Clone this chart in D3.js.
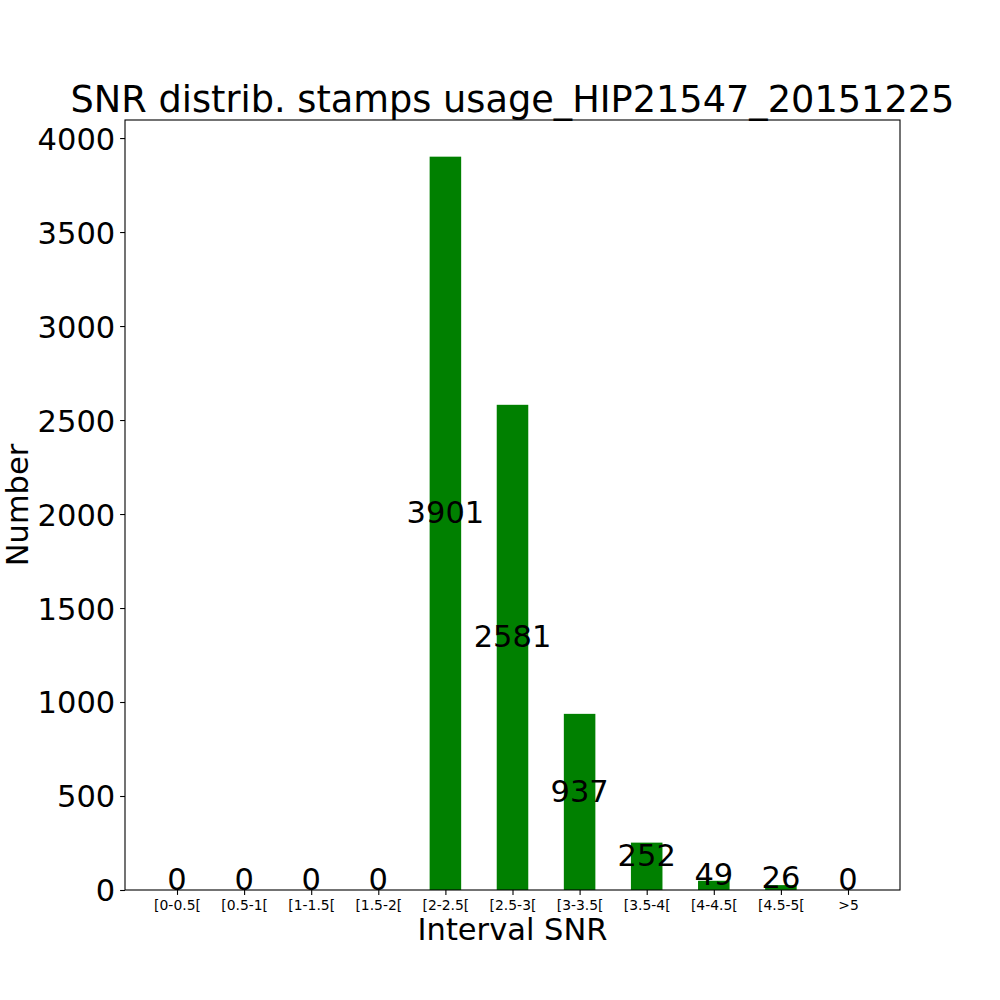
<!DOCTYPE html>
<html>
<head>
<meta charset="utf-8">
<script src="https://cdn.jsdelivr.net/npm/d3@7"></script>
<style>
  body { margin: 0; background: #fff; }
  text { font-family: "DejaVu Sans", sans-serif; fill: #000; }
</style>
</head>
<body>
<svg width="1000" height="1000"></svg>
<script>
// SNR histogram data
var categories = ['[0-0.5[', '[0.5-1[', '[1-1.5[', '[1.5-2[', '[2-2.5[', '[2.5-3[', '[3-3.5[', '[3.5-4[', '[4-4.5[', '[4.5-5[', '>5'];
var counts = [0, 0, 0, 0, 3901, 2581, 937, 252, 49, 26, 0];
var yTicks = [0, 500, 1000, 1500, 2000, 2500, 3000, 3500, 4000];

var svg = d3.select('svg');
var pLeft = 125, pRight = 900, pTop = 120, pBottom = 890;
var barW = 0.47;

var x = d3.scaleLinear().domain([-0.775, counts.length - 1 + 0.775]).range([pLeft, pRight]);
var y = d3.scaleLinear().domain([0, d3.max(counts) * 1.05]).range([pBottom, pTop]);

// bars
svg.selectAll('rect.bar').data(counts).enter().append('rect')
  .attr('class', 'bar')
  .attr('x', function(d, i) { return x(i - barW / 2); })
  .attr('width', x(barW) - x(0))
  .attr('y', function(d) { return y(d); })
  .attr('height', function(d) { return y(0) - y(d); })
  .attr('fill', '#008000');

// value labels at half height
svg.selectAll('text.val').data(counts).enter().append('text')
  .attr('class', 'val')
  .attr('x', function(d, i) { return x(i); })
  .attr('y', function(d) { return y(d / 2); })
  .attr('text-anchor', 'middle')
  .style('font-size', '30.5px')
  .text(function(d) { return d; });

// y axis
var yAxis = d3.axisLeft(y).tickValues(yTicks).tickFormat(d3.format('d')).tickSize(4.9).tickPadding(4.9);
var gy = svg.append('g').attr('transform', 'translate(' + pLeft + ',0)').call(yAxis);
gy.select('.domain').remove();
gy.selectAll('text').style('font-size', '30.5px').attr('dy', '0.36em');
gy.selectAll('line').attr('stroke', '#000').attr('stroke-width', 1.1);

// x axis
var xAxis = d3.axisBottom(x).tickValues(d3.range(categories.length))
  .tickFormat(function(i) { return categories[i]; }).tickSize(4.9).tickPadding(4.9);
var gx = svg.append('g').attr('transform', 'translate(0,' + pBottom + ')').call(xAxis);
gx.select('.domain').remove();
gx.selectAll('text').style('font-size', '13.9px').attr('dy', '0.76em');
gx.selectAll('line').attr('stroke', '#000').attr('stroke-width', 1.1);

// frame
svg.append('rect').attr('x', pLeft).attr('y', pTop).attr('width', pRight - pLeft).attr('height', pBottom - pTop)
  .attr('fill', 'none').attr('stroke', '#000').attr('stroke-width', 1.1);

// titles
svg.append('text').attr('x', (pLeft + pRight) / 2).attr('y', 112).attr('text-anchor', 'middle')
  .style('font-size', '36.7px').text('SNR distrib. stamps usage_HIP21547_20151225');
svg.append('text').attr('x', (pLeft + pRight) / 2).attr('y', 940).attr('text-anchor', 'middle')
  .style('font-size', '30.5px').text('Interval SNR');
svg.append('text').attr('transform', 'translate(28,' + ((pTop + pBottom) / 2) + ') rotate(-90)')
  .attr('text-anchor', 'middle').style('font-size', '30.5px').text('Number');
</script>
</body>
</html>
